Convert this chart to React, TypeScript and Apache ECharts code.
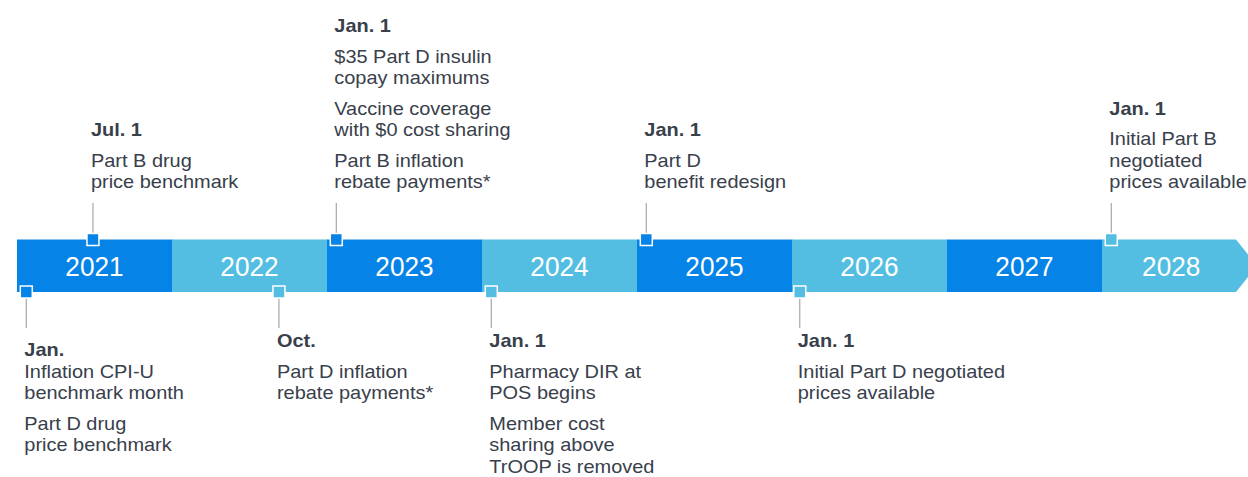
import React, { useEffect, useRef } from "react";
import * as echarts from "echarts";

// ---- data ----
const YEARS = [2021, 2022, 2023, 2024, 2025, 2026, 2027, 2028];
const EVENT_DATES = [2021.06, 2021.49, 2022.69, 2023.06, 2024.06, 2025.06, 2026.05, 2028.06];
const EVENT_SIDES = ["below", "above", "below", "above", "below", "above", "below", "above"];
const EVENT_TITLES = ["Jan.", "Jul. 1", "Oct.", "Jan. 1", "Jan. 1", "Jan. 1", "Jan. 1", "Jan. 1"];
const EVENT_TITLE_JOINED = [true, false, false, false, false, false, false, false];
const EVENT_NOTES: string[][][] = [
  [["Inflation CPI-U", "benchmark month"], ["Part D drug", "price benchmark"]],
  [["Part B drug", "price benchmark"]],
  [["Part D inflation", "rebate payments*"]],
  [["$35 Part D insulin", "copay maximums"], ["Vaccine coverage", "with $0 cost sharing"], ["Part B inflation", "rebate payments*"]],
  [["Pharmacy DIR at", "POS begins"], ["Member cost", "sharing above", "TrOOP is removed"]],
  [["Part D", "benefit redesign"]],
  [["Initial Part D negotiated", "prices available"]],
  [["Initial Part B", "negotiated", "prices available"]],
];

// ---- style / layout ----
const DARK = "#0683E6";
const LIGHT = "#53BEE2";
const TEXT = "#38404b";
const FONT = "'Liberation Sans', Arial, Helvetica, sans-serif";
const BAND_TOP = 239.5;
const BAND_BOTTOM = 292;
const BAND_MID = (BAND_TOP + BAND_BOTTOM) / 2;
const MARK = 12;
const TOP_TEXT_BOTTOM = 192;
const BOTTOM_TEXT_TOP = 329.5;
const TOP_LINE_START = 203;
const BOTTOM_LINE_END = 328;
const TEXT_STRETCH = 1.05;
const LINE_H = 21.5;
const GAP_H = 9;

function buildRich(i: number): string {
  const lines: string[] = [];
  if (EVENT_TITLE_JOINED[i]) lines.push("{g| }");
  lines.push(`{t|${EVENT_TITLES[i]}}`);
  if (!EVENT_TITLE_JOINED[i]) lines.push("{g| }");
  EVENT_NOTES[i].forEach((para, p) => {
    if (p > 0) lines.push("{g| }");
    para.forEach((l) => lines.push(`{b|${l}}`));
  });
  return lines.join("\n");
}

export default function App() {
  const ref = useRef<HTMLDivElement>(null);
  useEffect(() => {
    document.body.style.margin = "0";
    const chart = echarts.init(ref.current!, null, { renderer: "svg" });

    const bandSeries: any = {
      type: "custom",
      coordinateSystem: "cartesian2d",
      silent: true,
      clip: false,
      data: YEARS.map((y, i) => [y, i]),
      renderItem: (params: any, api: any) => {
        const y = api.value(0);
        const i = params.dataIndex;
        const x0 = api.coord([y, 0])[0];
        const x1 = api.coord([y + 1, 0])[0];
        const color = i % 2 === 0 ? DARK : LIGHT;
        const last = i === YEARS.length - 1;
        let shapeEl: any;
        let cx: number;
        if (last) {
          const bodyEnd = x1 - 21;
          shapeEl = {
            type: "polygon",
            shape: {
              points: [
                [x0, BAND_TOP],
                [bodyEnd, BAND_TOP],
                [x1, BAND_MID],
                [bodyEnd, BAND_BOTTOM],
                [x0, BAND_BOTTOM],
              ],
            },
            style: { fill: color },
          };
          cx = (x0 + (bodyEnd + x1 - 12) / 2) / 2;
        } else {
          shapeEl = {
            type: "rect",
            shape: { x: x0, y: BAND_TOP, width: x1 - x0 + 0.5, height: BAND_BOTTOM - BAND_TOP },
            style: { fill: color },
          };
          cx = (x0 + x1) / 2;
        }
        return {
          type: "group",
          children: [
            shapeEl,
            {
              type: "text",
              x: cx,
              y: BAND_MID + 0.5,
              scaleX: 0.92,
              style: {
                text: String(y),
                x: 0,
                y: 0,
                align: "center",
                verticalAlign: "middle",
                fill: "#ffffff",
                fontSize: 28.5,
                fontFamily: FONT,
              },
            },
          ],
        };
      },
    };

    const rich = {
      t: { fontSize: 19, fontWeight: "bold", lineHeight: LINE_H, fill: TEXT, fontFamily: FONT },
      b: { fontSize: 19, lineHeight: LINE_H, fill: TEXT, fontFamily: FONT },
      g: { fontSize: 2, lineHeight: GAP_H, fill: TEXT, fontFamily: FONT },
    };

    const eventSeries: any = {
      type: "custom",
      coordinateSystem: "cartesian2d",
      silent: true,
      clip: false,
      z: 5,
      data: EVENT_DATES.map((d, i) => [d, i]),
      renderItem: (params: any, api: any) => {
        const i = params.dataIndex;
        const d = api.value(0);
        const x = api.coord([d, 0])[0];
        const above = EVENT_SIDES[i] === "above";
        const edge = above ? BAND_TOP : BAND_BOTTOM;
        const yr = Math.floor(d);
        const color = (yr - YEARS[0]) % 2 === 0 ? DARK : LIGHT;
        const half = MARK / 2;
        const line = above
          ? { x1: x, y1: TOP_LINE_START, x2: x, y2: edge - half }
          : { x1: x, y1: edge + half, x2: x, y2: BOTTOM_LINE_END };
        return {
          type: "group",
          children: [
            { type: "line", shape: line, style: { stroke: "#a5a7aa", lineWidth: 1.2 } },
            {
              type: "rect",
              shape: { x: x - half, y: edge - half, width: MARK, height: MARK },
              style: { fill: color, stroke: "#ffffff", lineWidth: 1.5 },
            },
            {
              type: "text",
              x: x - 2,
              y: above ? TOP_TEXT_BOTTOM : BOTTOM_TEXT_TOP,
              scaleX: TEXT_STRETCH,
              style: {
                text: buildRich(i),
                x: 0,
                y: 0,
                align: "left",
                verticalAlign: above ? "bottom" : "top",
                fontSize: 19,
                fontFamily: FONT,
                fill: TEXT,
                rich,
              },
            },
          ],
        };
      },
    };

    chart.setOption({
      animation: false,
      grid: {
        left: 17,
        top: 0,
        width: 155 * YEARS.length,
        height: 477,
        containLabel: false,
        outerBoundsMode: "none",
      },
      xAxis: { type: "value", min: YEARS[0], max: YEARS[YEARS.length - 1] + 1, show: false },
      yAxis: { type: "value", min: 0, max: 1, show: false },
      series: [bandSeries, eventSeries],
    });
    return () => chart.dispose();
  }, []);
  return <div ref={ref} style={{ width: 1248, height: 477 }} />;
}
